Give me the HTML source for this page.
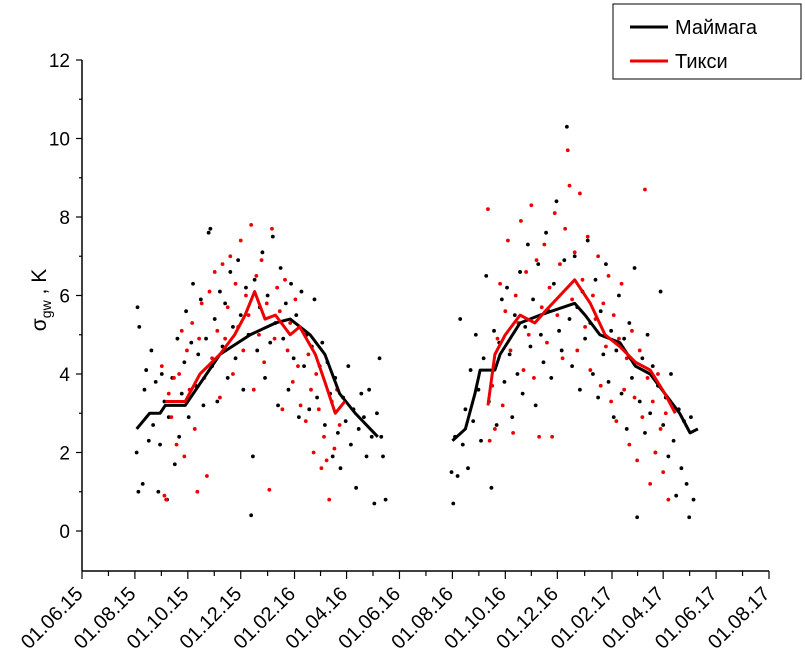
<!DOCTYPE html>
<html><head><meta charset="utf-8"><style>
body{margin:0;background:#fff;font-family:"Liberation Sans",sans-serif}
</style></head><body>
<svg id="chart" width="805" height="665" xmlns="http://www.w3.org/2000/svg" font-family="Liberation Sans, sans-serif">
<g id="dots"></g>
<g id="lines"></g>
<g id="axes"></g>
<g>
<rect x="613" y="4" width="188" height="75" fill="#fff" stroke="#000" stroke-width="1"/>
<line x1="630" y1="27" x2="668" y2="27" stroke="#000" stroke-width="3"/>
<text x="675" y="34" font-size="20">Маймага</text>
<line x1="630" y1="61" x2="668" y2="61" stroke="#e00" stroke-width="3"/>
<text x="675" y="68" font-size="20">Тикси</text>
</g>
<text transform="translate(46,300) rotate(-90)" text-anchor="middle" font-size="21">σ<tspan font-size="14" dy="5">gw</tspan><tspan dy="-5"> , K</tspan></text>
</svg>
<script>
// x in days since 01.06.2015
const xTickLabels=["01.06.15","01.08.15","01.10.15","01.12.15","01.02.16","01.04.16","01.06.16","01.08.16","01.10.16","01.12.16","01.02.17","01.04.17","01.06.17","01.08.17"];
const xTickDays=[0,61,122,183,245,305,366,427,488,548,611,670,731,792];
const yTicks=[0,2,4,6,8,10,12];
const blackLine1=[[63,2.6],[78,3.0],[90,3.0],[96,3.2],[119,3.2],[159,4.5],[194,5.0],[223,5.3],[240,5.4],[263,5.0],[280,4.5],[297,3.5],[315,3.0],[341,2.4]];
const redLine1=[[96,3.3],[119,3.3],[136,4.0],[159,4.5],[176,5.0],[188,5.5],[199,6.1],[211,5.4],[223,5.5],[240,5.0],[251,5.2],[269,4.5],[280,3.8],[292,3.0],[303,3.3]];
const blackLine2=[[427,2.3],[442,2.6],[453,3.5],[459,4.1],[476,4.1],[482,4.5],[505,5.3],[528,5.5],[568,5.8],[580,5.5],[597,5.0],[620,4.8],[638,4.2],[655,4.0],[672,3.5],[689,3.0],[701,2.5],[710,2.6]];
const redLine2=[[468,3.2],[476,4.5],[488,5.0],[505,5.5],[522,5.3],[534,5.6],[551,6.0],[568,6.4],[586,5.8],[603,5.0],[620,4.7],[638,4.3],[655,4.1],[672,3.5],[684,3.0]];
const blackPts=[[63,2.0],[64,5.7],[66,5.2],[65,1.0],[70,1.2],[72,3.6],[74,4.1],[77,2.3],[80,4.6],[82,2.7],[85,3.8],[88,1.0],[90,2.2],[92,4.0],[95,3.3],[98,0.8],[100,2.9],[104,3.9],[107,1.7],[110,4.9],[112,2.4],[115,3.5],[118,4.3],[120,5.6],[123,2.9],[126,4.8],[128,6.3],[131,3.7],[134,4.5],[137,5.9],[140,3.2],[143,4.9],[146,7.6],[148,7.7],[150,4.2],[153,5.4],[156,3.3],[159,6.1],[162,4.7],[165,5.8],[168,3.9],[171,6.6],[174,5.2],[177,4.4],[180,6.9],[183,5.5],[186,3.6],[189,6.2],[192,5.0],[195,0.4],[197,1.9],[199,6.4],[202,4.6],[205,5.7],[208,7.1],[211,3.9],[214,6.0],[217,4.8],[220,7.5],[223,5.3],[226,3.2],[229,6.7],[232,4.9],[235,5.8],[238,3.6],[241,6.3],[244,4.4],[247,5.5],[250,2.9],[253,6.1],[256,4.2],[259,5.0],[262,3.1],[265,4.7],[268,5.9],[271,3.4],[274,4.2],[277,4.8],[280,2.7],[283,4.3],[286,3.5],[289,1.9],[292,3.9],[295,2.5],[298,1.6],[301,3.4],[304,2.8],[307,4.2],[310,2.2],[313,3.1],[316,1.1],[319,2.6],[322,3.5],[325,2.9],[328,1.9],[331,3.6],[334,2.4],[337,0.7],[340,3.0],[343,4.4],[345,2.4],[347,1.9],[350,0.8],
[426,1.5],[428,0.7],[430,2.4],[433,1.4],[436,5.4],[439,2.2],[442,3.1],[445,1.6],[448,4.1],[451,2.8],[454,5.0],[457,3.6],[460,2.3],[463,4.4],[466,6.5],[469,3.3],[472,1.1],[475,5.1],[478,2.7],[481,4.8],[484,5.9],[487,3.8],[490,6.2],[493,4.5],[496,2.9],[499,5.5],[502,4.0],[505,6.6],[508,3.5],[511,5.2],[514,7.3],[517,4.7],[520,5.9],[523,3.2],[526,6.8],[529,5.0],[532,4.3],[535,7.6],[538,5.6],[541,3.9],[544,6.3],[547,8.4],[550,5.1],[553,4.6],[556,6.9],[559,10.3],[562,5.4],[565,4.2],[568,7.0],[571,5.7],[574,3.6],[577,6.1],[580,4.9],[583,7.4],[586,5.3],[589,4.0],[592,6.4],[595,3.4],[598,5.6],[601,4.5],[604,6.8],[607,3.8],[610,5.1],[613,2.9],[616,4.6],[619,6.0],[622,3.5],[625,4.9],[628,2.6],[631,5.3],[634,3.9],[637,6.7],[640,0.35],[643,3.3],[646,4.4],[649,2.5],[652,5.0],[655,3.0],[658,4.2],[661,2.0],[664,3.7],[667,6.1],[670,2.7],[673,3.4],[676,1.9],[679,4.0],[682,2.3],[685,0.9],[688,3.1],[691,1.6],[694,2.8],[697,1.2],[700,0.35],[702,2.9],[705,0.8]];
const redPts=[[92,4.2],[95,0.9],[97,0.8],[100,3.5],[103,2.9],[106,3.9],[109,2.2],[112,4.0],[115,5.1],[118,1.9],[121,4.6],[124,3.6],[127,5.3],[130,2.6],[133,1.0],[135,4.9],[138,5.8],[141,3.9],[144,1.4],[147,6.1],[150,4.4],[153,6.6],[156,5.1],[159,3.4],[162,6.8],[165,4.9],[168,5.7],[171,7.0],[174,4.0],[177,6.3],[180,5.2],[183,7.4],[186,4.6],[189,6.0],[192,5.5],[195,7.8],[198,3.6],[201,6.5],[204,5.0],[207,6.9],[210,4.3],[213,5.8],[216,1.05],[219,7.7],[222,4.9],[225,6.2],[228,5.6],[231,3.1],[234,6.4],[237,4.6],[240,5.3],[243,3.8],[246,5.9],[249,4.2],[252,3.2],[255,5.1],[258,2.8],[261,4.5],[264,3.6],[267,2.0],[270,4.0],[273,3.1],[276,1.6],[279,2.4],[282,1.8],[285,0.8],[288,3.3],[291,2.1],[294,3.6],[297,2.7],
[468,8.2],[470,2.3],[473,3.7],[476,2.6],[479,4.9],[482,6.3],[485,3.2],[488,5.6],[491,7.4],[494,4.6],[497,2.5],[500,6.0],[503,5.3],[506,7.9],[509,4.1],[512,6.6],[515,5.0],[518,8.3],[521,3.9],[524,6.9],[527,2.4],[530,5.7],[533,7.3],[536,4.8],[539,6.2],[542,2.4],[545,8.1],[548,5.5],[551,6.8],[554,4.4],[557,7.7],[560,9.7],[562,8.8],[565,5.9],[568,7.1],[571,4.6],[574,8.6],[577,6.4],[580,5.2],[583,7.5],[586,4.1],[589,6.0],[592,5.4],[595,7.0],[598,3.7],[601,5.8],[604,4.7],[607,6.5],[610,3.3],[613,5.5],[616,2.8],[619,4.9],[622,6.3],[625,3.6],[628,4.4],[631,2.2],[634,5.1],[637,3.4],[640,1.8],[643,4.6],[646,2.9],[649,8.7],[652,3.9],[655,1.2],[658,3.3],[661,2.0],[664,4.0],[667,2.6],[670,1.5],[673,3.0],[676,0.8]];

const NS="http://www.w3.org/2000/svg";
const X0=82,X1=769,D1=792,Y0=531,PPU=39.25,AXY=571;
const sx=d=>X0+d*(X1-X0)/D1;
const sy=v=>Y0-v*PPU;
function mk(tag,attrs,parent){const e=document.createElementNS(NS,tag);for(const k in attrs)e.setAttribute(k,attrs[k]);parent.appendChild(e);return e;}
const axes=document.getElementById('axes'),dots=document.getElementById('dots'),lines=document.getElementById('lines');
let a=mk('line',{x1:X0,y1:sy(12),x2:X0,y2:AXY,stroke:'#000','stroke-width':1.5},axes);


a=mk('line',{x1:X0,y1:AXY,x2:X1,y2:AXY,stroke:'#000','stroke-width':1.5},axes);


yTicks.forEach((v,i)=>{
  mk('line',{x1:X0-6,y1:sy(v),x2:X0,y2:sy(v),stroke:'#000','stroke-width':1.2},axes);
  if(i<yTicks.length-1)mk('line',{x1:X0-3,y1:sy(v+1),x2:X0,y2:sy(v+1),stroke:'#000','stroke-width':1.2},axes);
  const t=mk('text',{x:X0-12,y:sy(v)+7,'text-anchor':'end','font-size':19},axes);
  t.textContent=v;
  
  
});
xTickDays.forEach((d,i)=>{
  const x=sx(d);
  mk('line',{x1:x,y1:AXY,x2:x,y2:AXY+8,stroke:'#000','stroke-width':1.2},axes);
  if(i<xTickDays.length-1){const m=sx((d+xTickDays[i+1])/2);mk('line',{x1:m,y1:AXY,x2:m,y2:AXY+5,stroke:'#000','stroke-width':1.2},axes);}
  const t=mk('text',{x:x+2,y:AXY+24,'text-anchor':'end','font-size':20,transform:`rotate(-45 ${x+2} ${AXY+24})`},axes);
  t.textContent=xTickLabels[i];
  
  
});
blackPts.forEach(p=>{const c=mk('circle',{cx:sx(p[0]),cy:sy(p[1]),r:1.9,fill:'#000'},dots);
  
  });
redPts.forEach(p=>{const c=mk('circle',{cx:sx(p[0]),cy:sy(p[1]),r:1.9,fill:'#e00'},dots);
  
  });
function line(arr,color,name){const l=mk('polyline',{points:arr.map(p=>sx(p[0])+','+sy(p[1])).join(' '),fill:'none',stroke:color,'stroke-width':3,'stroke-linejoin':'round'},lines);
  
  }
line(blackLine1,'#000','maymaga-mean-2015');
line(blackLine2,'#000','maymaga-mean-2016');
line(redLine1,'#e00','tiksi-mean-2015');
line(redLine2,'#e00','tiksi-mean-2016');
</script>
</body></html>
